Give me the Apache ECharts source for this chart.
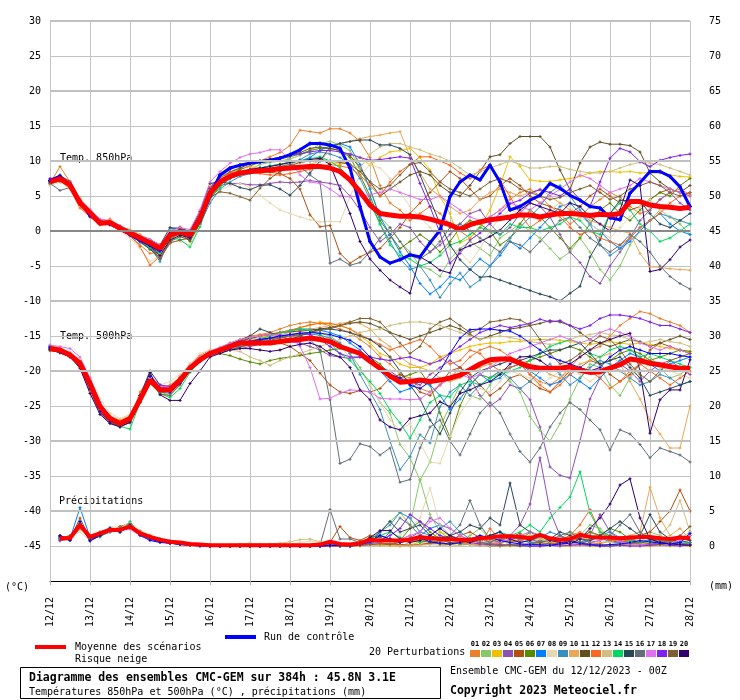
<!DOCTYPE html>
<html><head><meta charset="utf-8">
<script src="https://cdn.jsdelivr.net/npm/echarts/dist/echarts.min.js"></script>
<style>html,body{margin:0;padding:0;background:#fff}#c{width:740px;height:700px}</style>
</head><body><div id="c"></div>
<script>
// ---------- tick labels ----------
const xLabels = ['12/12','13/12','14/12','15/12','16/12','17/12','18/12','19/12','20/12','21/12','22/12','23/12','24/12','25/12','26/12','27/12','28/12'];
const memberLabels = ['01','02','03','04','05','06','07','08','09','10','11','12','13','14','15','16','17','18','19','20'];
// ---------- mean ----------
const mean850 = [7.0,7.5,6.6,4.0,2.6,1.1,1.2,0.4,-0.3,-1.0,-1.7,-2.5,-0.6,-0.1,-0.6,1.8,5.4,
 7.0,7.8,8.3,8.5,8.6,8.7,8.9,9.0,9.1,9.2,9.2,9.0,8.5,7.3,5.6,3.7,
 2.5,2.3,2.1,2.1,2.0,1.7,1.3,0.9,0.2,0.9,1.3,1.6,1.8,2.0,2.3,2.3,
 2.0,2.3,2.5,2.5,2.4,2.2,2.4,2.3,2.5,4.2,4.2,3.7,3.5,3.4,3.2,3.4];
const mean500 = [-16.8,-17.0,-17.7,-18.9,-21.8,-25.1,-26.8,-27.5,-26.8,-24.1,-21.3,-22.7,-22.7,-21.3,-19.6,-18.4,-17.5,
 -17.0,-16.5,-16.0,-16.0,-16.0,-16.0,-15.8,-15.6,-15.5,-15.3,-15.5,-15.8,-16.5,-17.0,-17.5,-18.6,
 -19.6,-20.7,-21.6,-21.5,-21.3,-21.5,-21.3,-21.0,-20.6,-19.8,-19.0,-18.4,-18.3,-18.3,-18.9,-19.4,
 -19.6,-19.6,-19.6,-19.4,-19.9,-20.2,-20.1,-19.6,-19.1,-18.3,-18.5,-18.9,-19.1,-19.4,-19.6,-19.6];
const meanPr = [null,1.1,1.1,3.0,1.3,1.8,2.3,2.3,2.8,1.8,1.3,0.9,0.6,0.5,0.3,0.2,0.1,
 0.1,0.1,0.1,0.1,0.1,0.1,0.1,0.1,0.1,0.1,0.2,0.6,0.3,0.2,0.4,0.9,
 0.8,0.8,0.8,0.9,1.3,1.1,1.0,1.0,0.9,0.9,1.1,1.2,1.4,1.4,1.3,1.1,
 1.6,1.1,0.9,1.0,1.6,1.3,1.2,1.2,1.1,1.2,1.3,1.3,1.1,1.0,1.2,1.1];
// ---------- control ----------
const ctl850 = [7.2,7.8,6.5,4.2,2.2,1.3,1.0,0.3,-0.5,-1.3,-2.0,-2.8,-0.4,0.0,-0.8,1.5,5.0,
 8.0,9.0,9.4,9.7,9.9,10.1,10.4,10.9,11.6,12.5,12.5,12.3,11.8,9.0,3.5,-1.5,
 -3.7,-4.6,-4.1,-3.4,-3.7,-1.7,0.1,4.9,7.0,8.0,7.3,9.4,7.0,3.0,3.5,4.4,
 5.1,6.8,6.1,5.1,4.4,3.5,3.3,1.9,1.6,5.4,6.9,8.5,8.5,7.8,6.3,3.5];
const ctl500 = [-16.6,-17.2,-17.8,-19.2,-22.5,-25.8,-27.2,-27.6,-27.0,-23.5,-20.8,-22.5,-23.0,-21.8,-20.0,-18.6,-17.6,
 -17.2,-16.8,-16.0,-15.8,-15.5,-15.3,-15.0,-14.8,-14.6,-14.5,-14.6,-14.8,-15.2,-15.6,-16.5,-18.0,
 -19.5,-20.5,-21.0,-22.0,-22.5,-21.5,-20.0,-17.5,-15.3,-14.1,-14.0,-14.0,-14.2,-14.3,-15.0,-16.0,
 -17.0,-18.0,-18.5,-19.0,-19.5,-20.0,-19.5,-18.0,-17.0,-16.5,-17.0,-17.5,-17.5,-17.5,-17.8,-18.0];
const ctlPr = [null,1.5,0.8,3.5,0.8,1.5,2.5,2.0,3.0,1.5,0.8,0.5,0.4,0.3,0.2,0.1,0.0,
 0.0,0.0,0.0,0.0,0.0,0.0,0.0,0.0,0.0,0.0,0.0,0.1,0.1,0.0,0.2,0.6,
 1.5,1.0,0.5,0.8,1.2,0.6,0.4,0.3,0.5,1.0,1.5,1.2,0.8,0.5,0.3,0.2,
 0.2,0.1,0.3,0.6,0.4,0.2,0.1,0.2,0.3,0.5,0.8,0.6,0.4,0.3,0.5,1.8];
// ---------- perturbations: 850 hPa ----------
const t850_01 = [6.8,9.2,7.0,3.8,2.0,1.0,1.5,0.2,-0.6,-2.0,-3.2,-3.0,-0.3,0.5,-0.2,2.2,5.8, 7.5,8.2,8.8,9.3,10.0,10.6,11.2,12.2,14.4,14.2,14.0,14.6,14.6,14.0,12.8,10.5, 6.5,4.0,3.0,1.5,2.5,3.5,2.5,1.0,0.0,-1.0,0.5,2.0,3.0,4.5,5.5,6.0, 5.0,3.5,2.5,1.0,2.0,3.5,4.5,5.5,4.8,3.5,2.5,3.0,4.5,5.5,6.0,5.2];
const t850_02 = [7.2,7.8,6.8,4.2,2.8,1.5,1.0,0.5,-0.2,-1.2,-2.2,-3.0,-0.8,-0.5,-1.0,1.5,5.0, 6.8,7.5,8.0,8.8,9.5,9.8,10.0,10.3,10.8,11.5,12.5,12.8,12.3,11.5,9.0,6.0, 2.0,0.5,-1.5,-3.0,-5.0,-5.5,-6.5,-4.0,-2.5,-1.5,-2.5,-3.5,-1.0,0.0,1.0,0.0, -1.0,-2.5,-4.0,-3.0,-1.0,-3.0,-5.5,-7.0,-5.0,-2.0,0.0,1.5,3.0,2.0,1.0,-0.5];
const t850_03 = [6.9,7.3,6.7,4.5,2.5,1.0,1.3,0.5,0.0,-0.8,-1.5,-2.2,-0.2,0.4,-0.3,2.0,5.6, 7.0,7.6,8.0,8.4,8.8,9.2,9.6,9.8,10.0,10.0,10.0,9.8,9.5,10.0,10.5,9.4, 10.5,11.3,11.5,11.8,10.5,8.7,4.9,2.5,-1.7,-1.0,0.5,3.0,6.5,10.6,9.2,7.3, 7.1,7.1,7.3,7.5,7.8,8.3,8.5,8.5,8.4,8.5,8.3,8.3,8.3,8.0,7.8,7.7];
const t850_04 = [7.3,7.6,6.5,4.0,2.4,1.2,1.0,0.3,-0.5,-1.3,-2.0,-2.4,-1.0,-0.4,-0.9,1.2,4.8, 6.5,6.8,6.8,6.6,6.6,6.8,7.0,6.9,7.0,7.2,7.0,6.8,6.5,5.0,3.0,0.5, -1.5,-0.5,1.0,0.5,-1.5,-3.0,-2.0,-0.5,1.0,2.5,3.0,1.0,-0.5,0.5,2.5,4.0, 3.5,2.0,-0.5,-3.0,-4.5,-6.5,-7.5,-5.0,-3.0,-1.0,1.5,3.0,4.5,5.5,4.0,3.0];
const t850_05 = [7.0,7.0,6.4,3.6,2.8,1.0,1.2,0.6,0.0,-0.6,-1.2,-2.0,0.0,0.5,-0.2,2.5,6.0, 7.4,8.0,8.5,8.6,8.5,8.4,8.2,7.5,6.0,2.3,0.6,0.8,-3.2,-4.6,-3.7,-3.0, -2.5,-1.0,0.5,2.5,4.0,5.5,7.0,8.5,7.5,6.0,4.5,5.0,6.5,7.5,6.5,5.0, 4.0,3.5,3.0,2.5,3.5,5.0,6.0,5.0,4.0,3.0,3.5,4.5,5.5,6.0,5.5,5.0];
const t850_06 = [7.1,7.4,6.9,4.3,2.5,0.9,1.4,0.5,-0.4,-1.5,-2.5,-3.5,-1.2,-0.3,-1.5,1.0,4.5, 6.5,7.8,8.8,9.3,9.8,10.0,10.3,10.6,11.0,11.5,11.8,11.8,11.5,10.5,8.0,5.0, 1.5,-0.5,-2.5,-1.5,-0.5,-1.5,-3.0,-1.5,0.5,1.5,1.0,0.0,-2.0,-1.0,1.0,3.0, 2.0,0.5,-1.0,-2.5,-1.0,1.0,3.0,4.0,2.5,1.5,3.0,4.5,5.5,5.0,6.5,7.5];
const t850_07 = [6.7,7.2,6.3,3.9,2.9,1.3,0.9,0.2,-0.6,-1.6,-2.6,-3.8,0.3,0.5,-0.4,1.6,5.2, 7.0,7.6,8.2,8.8,9.0,9.3,9.5,9.8,10.0,10.5,11.5,12.2,12.5,12.0,9.5,6.0, 2.0,-0.5,-3.0,-5.0,-7.5,-9.0,-8.0,-6.5,-7.0,-5.5,-4.0,-5.0,-3.5,-1.5,-2.5,-1.0, 0.5,2.0,3.5,4.0,2.5,1.0,0.0,-1.5,-2.5,-1.5,0.0,1.5,2.5,1.0,0.0,-0.5];
const t850_08 = [6.5,7.0,6.2,3.5,2.0,0.8,1.0,0.0,-1.0,-2.5,-4.4,-3.5,-1.5,-1.5,-2.0,0.8,4.5, 5.8,6.5,6.8,6.2,5.1,4.0,3.0,2.5,2.0,1.6,1.3,1.4,1.3,4.9,8.0,9.5, 9.0,7.5,5.5,3.5,2.0,0.5,-1.5,-2.5,-3.0,-4.5,-2.5,0.0,2.0,3.0,2.5,2.0, 1.5,3.0,4.0,3.5,2.0,1.0,0.0,-1.0,0.5,2.0,3.5,4.5,3.0,2.0,1.5,1.0];
const t850_09 = [7.0,7.7,6.6,4.4,2.7,1.6,1.1,0.6,-0.2,-1.3,-2.3,-4.4,-1.0,-0.2,-0.6,1.0,4.0, 6.0,7.0,7.8,8.2,8.5,8.8,9.2,9.6,10.2,11.0,11.3,11.0,10.5,9.5,7.5,4.5, 1.0,-1.5,-4.0,-5.5,-5.0,-7.0,-9.5,-7.5,-6.0,-8.0,-7.0,-5.0,-3.0,-1.0,0.5,2.0, 3.5,5.5,6.5,5.0,3.0,1.0,-2.0,-3.5,-2.5,-1.0,0.5,1.5,2.5,2.0,1.5,1.0];
const t850_10 = [6.8,7.3,6.8,4.7,3.0,1.4,1.6,0.7,0.2,-0.5,-1.5,-2.8,-0.4,0.2,-0.4,2.4,6.2, 7.8,8.5,9.0,9.2,9.0,8.8,8.8,9.0,9.3,9.5,10.0,11.5,12.5,12.8,13.2,13.5, 13.7,14.0,14.2,10.6,8.3,6.0,5.0,3.5,2.5,3.0,4.5,5.5,6.0,5.5,5.0,5.5, 6.0,5.0,4.0,3.0,2.5,1.5,1.0,0.5,0.0,-0.3,-3.2,-5.1,-5.2,-5.4,-5.5,-5.6];
const t850_11 = [7.2,7.9,7.1,4.1,2.3,1.2,1.3,0.4,-0.3,-1.5,-2.6,-3.9,-1.5,-0.8,-1.3,1.3,5.3, 7.6,8.4,9.0,9.6,10.0,10.3,10.5,10.8,11.2,11.8,12.0,11.8,11.5,10.8,9.0,7.0, 5.0,6.0,7.0,8.0,8.5,8.0,6.5,5.5,5.0,6.5,8.5,10.6,10.9,12.5,13.5,13.5, 13.5,12.0,8.7,5.9,9.7,12.0,12.7,12.4,12.4,12.2,11.3,8.3,7.0,6.0,5.5,6.5];
const t850_12 = [6.9,7.2,6.0,3.3,2.0,0.9,1.7,0.6,-0.7,-2.2,-4.9,-3.6,-1.8,0.6,-0.5,2.0,6.3, 7.5,8.2,8.4,8.3,8.2,8.0,8.0,8.2,8.5,8.8,9.2,9.5,9.3,9.0,8.0,6.5, 5.0,7.0,8.5,9.5,10.6,10.6,10.0,9.4,8.3,7.5,8.7,9.4,7.3,4.9,2.5,0.5, 1.5,3.0,2.0,0.5,-0.5,0.0,-1.0,-1.5,-2.0,-1.0,0.5,1.5,2.5,4.0,5.0,5.5];
const t850_13 = [6.6,7.4,6.7,4.6,2.6,1.3,1.5,0.8,0.1,-0.9,-1.8,-2.0,0.1,0.3,-0.2,2.6,6.5, 7.6,8.0,8.3,8.5,8.8,9.0,9.3,9.6,9.8,10.0,10.2,10.0,9.8,9.5,9.0,11.0, 12.0,12.5,12.5,12.0,11.6,11.0,10.6,10.0,9.0,8.0,8.5,9.0,9.5,10.0,9.5,9.0, 9.0,9.2,9.2,8.8,8.5,8.3,8.3,8.5,9.0,9.5,9.8,9.7,9.5,9.0,8.5,8.0];
const t850_14 = [7.1,7.5,6.8,4.1,2.6,1.0,1.1,0.3,-0.6,-1.4,-2.4,-3.1,-1.0,-1.2,-2.3,0.6,4.6, 6.2,7.5,8.2,8.6,9.0,9.3,9.5,9.8,10.0,10.3,10.6,10.0,9.0,7.5,6.0,4.0, 1.0,-2.0,-3.5,-4.0,-5.0,-4.5,-3.5,-2.0,-1.5,-0.5,0.5,0.0,-0.5,1.0,0.5,0.5, 0.0,0.5,1.0,2.0,1.5,0.0,-0.5,2.5,4.0,3.0,1.0,0.0,-1.5,-1.0,0.0,1.0];
const t850_15 = [7.3,8.0,6.4,4.3,2.1,1.4,1.3,0.2,-0.4,-1.1,-1.3,-2.0,0.5,0.3,0.0,2.8,6.8, 7.0,6.8,6.2,5.9,6.5,6.6,6.0,5.1,6.5,8.3,10.0,12.0,12.5,12.8,13.0,13.0, 12.3,12.3,11.8,10.9,8.0,4.5,1.0,-2.0,-4.1,-5.5,-6.6,-6.5,-7.0,-7.5,-8.0,-8.5, -9.0,-9.4,-10.0,-8.9,-7.9,-3.7,-1.3,2.5,4.4,4.3,4.3,2.5,1.0,0.5,1.5,2.5];
const t850_16 = [6.8,5.8,6.2,3.8,2.3,1.3,0.9,0.5,-0.1,-0.8,-1.6,-2.2,-0.3,0.1,-0.7,1.6,5.5, 6.8,7.5,8.0,8.3,8.6,8.9,9.2,9.5,9.2,8.0,7.0,-4.6,-4.0,-4.9,-4.5,-3.0, -1.0,0.5,-1.5,-3.5,-4.0,-3.0,-1.5,0.5,1.0,0.0,-1.0,-2.0,-3.0,-1.5,-2.0,-3.0, -1.5,0.0,1.5,2.0,0.5,-1.0,-2.0,-3.0,-2.0,-0.5,-1.5,-3.0,-5.0,-6.5,-7.5,-8.3];
const t850_17 = [7.4,7.6,7.0,4.5,3.1,1.7,1.5,0.8,0.0,-0.7,-1.2,-2.0,0.0,0.5,0.2,3.0,7.0, 8.5,9.7,10.5,11.0,11.2,11.6,11.6,10.0,8.0,7.0,6.8,6.0,5.0,4.9,5.0,5.2, 5.5,6.0,5.5,5.0,4.5,4.5,5.0,4.0,3.0,2.0,1.5,2.0,3.0,4.0,3.5,3.0, 4.0,5.0,6.0,7.0,8.0,7.5,6.5,5.5,6.0,6.5,7.5,7.0,6.5,6.0,5.5,5.0];
const t850_18 = [7.5,7.7,6.9,4.2,2.7,1.4,1.2,0.6,-0.2,-1.0,-1.9,-2.6,-0.5,0.2,-0.2,2.3,6.1, 7.8,8.8,9.5,9.8,10.0,10.2,10.5,10.8,11.0,11.3,11.5,11.5,11.3,11.0,10.5,10.1, 10.2,10.4,10.6,10.4,6.8,3.5,-0.3,-4.6,-3.2,-1.3,-0.3,1.1,2.5,3.9,4.4,5.4, 5.9,5.5,5.0,6.0,4.5,3.5,7.0,10.4,11.8,11.3,9.9,9.2,10.1,10.5,10.8,11.0];
const t850_19 = [7.0,7.1,6.5,4.4,2.4,1.2,0.9,0.5,-0.3,-1.2,-2.1,-4.0,-1.7,-1.3,-1.0,1.4,4.8, 5.6,5.4,4.9,4.4,6.1,7.5,8.5,9.3,9.8,10.0,10.2,10.0,9.8,9.5,8.5,7.0, 6.0,6.5,8.0,9.5,9.8,8.5,7.0,6.0,5.5,5.0,6.0,7.0,7.5,7.0,6.0,5.5, 5.0,4.5,4.8,5.5,6.0,6.5,5.5,4.5,5.0,6.0,6.5,7.0,6.5,5.5,5.0,5.5];
const t850_20 = [7.1,7.6,6.6,4.0,2.5,1.1,1.2,0.3,-0.5,-1.3,-2.1,-3.5,-1.3,-0.6,-1.0,1.5,5.1, 7.0,7.8,8.4,8.8,9.0,9.2,9.5,9.8,10.0,10.2,10.4,9.5,6.0,2.5,-1.5,-4.0, -5.6,-7.0,-8.0,-8.9,-3.7,-4.5,-5.6,-6.0,-2.7,-2.1,-1.5,-0.8,0.1,1.6,3.0,4.0, 3.5,3.0,2.5,4.0,3.5,2.0,1.0,0.0,3.0,7.3,6.5,-5.8,-5.5,-4.1,-2.3,-1.3];
// ---------- perturbations: 500 hPa ----------
const t500_01 = [-16.5,-16.8,-17.5,-19.5,-23.0,-26.0,-27.5,-27.8,-27.0,-23.0,-21.0,-22.5,-22.0,-21.0,-19.0,-17.8,-17.0, -16.8,-16.0,-15.5,-15.0,-14.8,-14.5,-14.0,-13.5,-13.2,-13.0,-13.2,-13.5,-14.0,-14.5,-15.5,-16.5, -18.0,-19.0,-20.5,-21.0,-22.5,-23.0,-22.0,-21.0,-19.5,-18.0,-17.0,-16.5,-17.0,-18.0,-19.0,-20.5, -21.5,-22.0,-21.0,-19.5,-18.0,-17.0,-16.5,-15.0,-13.5,-12.5,-11.5,-11.8,-12.5,-13.0,-13.5,-14.5];
const t500_02 = [-17.0,-17.2,-17.8,-19.0,-22.0,-25.5,-27.0,-27.5,-27.2,-24.5,-21.5,-23.0,-23.5,-21.5,-19.5,-18.2,-17.6, -17.2,-16.6,-16.2,-16.0,-15.8,-15.5,-15.2,-15.0,-14.8,-14.5,-14.6,-15.0,-16.0,-17.5,-19.5,-22.0, -24.5,-26.0,-30.5,-32.4,-35.6,-33.0,-28.0,-25.0,-22.0,-23.5,-24.0,-22.0,-20.0,-21.5,-23.0,-26.5, -28.5,-30.0,-27.5,-24.0,-21.0,-19.0,-19.5,-22.0,-23.5,-21.0,-19.0,-18.0,-19.5,-21.0,-20.5,-19.5];
const t500_03 = [-16.9,-17.3,-17.8,-18.8,-21.5,-25.0,-26.5,-27.2,-26.5,-24.0,-21.0,-22.5,-22.5,-21.0,-19.5,-18.0,-17.4, -17.0,-16.3,-15.8,-15.5,-15.2,-15.0,-14.6,-14.2,-13.8,-13.5,-13.0,-13.2,-13.5,-14.0,-15.0,-16.0, -17.5,-18.0,-19.0,-19.5,-19.5,-19.0,-18.0,-17.5,-17.0,-16.5,-16.2,-16.0,-16.0,-15.8,-15.8,-15.6, -15.5,-15.5,-15.6,-15.8,-16.0,-16.2,-16.0,-15.8,-16.0,-16.2,-16.0,-16.2,-16.5,-16.8,-17.0,-17.2];
const t500_04 = [-16.7,-16.9,-17.6,-18.6,-21.0,-24.5,-26.5,-27.3,-26.6,-24.3,-21.5,-22.3,-22.4,-21.0,-19.3,-18.2,-17.6, -17.3,-17.0,-16.8,-16.5,-16.2,-16.0,-15.8,-15.8,-16.0,-16.5,-17.0,-17.8,-18.0,-18.2,-18.0,-18.5, -19.5,-20.0,-21.0,-21.5,-22.0,-20.5,-19.5,-18.5,-19.5,-21.0,-23.5,-25.0,-24.0,-22.0,-22.5,-24.1, -28.0,-33.7,-34.9,-35.3,-30.0,-24.0,-21.0,-19.5,-19.0,-20.0,-21.5,-20.0,-19.0,-18.5,-19.5,-20.5];
const t500_05 = [-16.4,-16.8,-17.5,-18.5,-21.5,-24.8,-26.8,-27.8,-27.2,-24.5,-21.5,-22.8,-22.6,-21.2,-19.2,-18.0,-17.2, -16.8,-16.6,-16.5,-16.3,-16.2,-16.0,-16.0,-16.5,-17.5,-18.5,-20.3,-22.0,-23.0,-23.2,-22.8,-23.0, -22.5,-21.0,-20.5,-21.5,-23.0,-23.5,-22.0,-20.0,-19.5,-20.5,-22.0,-23.5,-22.5,-21.0,-20.5,-21.5, -22.5,-23.0,-21.5,-20.0,-19.5,-18.5,-19.0,-20.5,-21.5,-20.5,-19.0,-17.0,-16.0,-16.5,-17.0,-17.5];
const t500_06 = [-16.8,-17.1,-17.7,-19.0,-22.0,-25.3,-27.0,-27.6,-27.0,-24.0,-21.2,-22.8,-22.8,-21.3,-19.5,-18.3,-17.5, -17.5,-17.8,-18.3,-18.7,-19.0,-18.5,-18.2,-18.0,-17.8,-17.5,-17.3,-17.0,-16.8,-17.0,-17.5,-18.0, -19.0,-20.5,-21.0,-20.5,-20.0,-22.0,-26.0,-29.5,-25.0,-22.0,-20.5,-21.0,-20.0,-19.5,-19.0,-18.5, -18.0,-17.5,-17.0,-16.5,-17.0,-18.0,-19.0,-18.5,-17.5,-17.0,-17.5,-18.5,-18.0,-17.5,-17.0,-17.2];
const t500_07 = [-16.6,-17.0,-17.6,-18.8,-21.6,-25.0,-26.6,-27.4,-26.8,-24.0,-21.0,-22.4,-22.6,-21.2,-19.4,-18.2,-17.4, -16.8,-16.2,-15.8,-15.4,-15.0,-14.8,-14.5,-14.2,-14.0,-14.0,-14.2,-14.5,-15.0,-16.0,-17.0,-18.5, -20.0,-21.5,-23.0,-22.5,-21.5,-22.0,-23.5,-25.5,-24.0,-22.0,-20.5,-21.5,-21.0,-19.5,-19.0,-20.0, -21.0,-22.0,-21.5,-20.5,-21.5,-22.5,-21.0,-19.5,-18.5,-17.5,-18.0,-19.0,-20.0,-19.0,-18.5,-18.0];
const t500_08 = [-16.3,-16.7,-17.3,-18.3,-21.0,-24.0,-26.0,-26.8,-26.2,-23.5,-21.0,-22.0,-21.5,-20.5,-19.0,-17.5,-17.0, -16.8,-16.5,-16.2,-16.0,-15.8,-15.5,-15.0,-14.8,-14.5,-14.5,-14.8,-15.5,-16.5,-18.0,-20.0,-22.0, -24.5,-27.0,-28.5,-27.5,-30.3,-33.0,-33.2,-29.4,-26.0,-24.0,-22.5,-23.0,-21.5,-20.0,-20.5,-21.0, -22.0,-21.0,-20.0,-19.5,-20.5,-21.5,-20.5,-19.5,-20.0,-21.0,-20.0,-19.0,-19.5,-20.0,-20.5,-21.0];
const t500_09 = [-16.9,-17.2,-17.9,-19.2,-22.3,-25.6,-27.1,-27.6,-27.1,-24.4,-21.6,-23.0,-23.2,-21.8,-19.9,-18.6,-17.8, -17.4,-16.9,-16.5,-16.0,-15.7,-15.4,-15.1,-14.9,-14.8,-14.7,-14.9,-15.3,-16.0,-17.5,-20.5,-23.0, -25.5,-30.0,-34.1,-32.2,-29.1,-30.3,-25.1,-23.0,-22.0,-23.5,-22.0,-21.0,-20.0,-21.0,-22.5,-21.5, -20.0,-19.0,-20.5,-22.0,-21.0,-19.5,-18.5,-19.0,-20.0,-21.0,-22.0,-21.5,-20.5,-21.0,-22.0,-21.5];
const t500_10 = [-16.6,-17.0,-17.5,-18.7,-21.3,-24.7,-26.4,-27.0,-26.4,-23.8,-21.2,-22.2,-22.2,-20.8,-19.2,-17.9,-17.2, -16.9,-16.4,-16.0,-15.7,-15.4,-15.1,-14.8,-14.5,-14.2,-14.0,-13.8,-13.5,-13.2,-13.0,-13.2,-14.0, -15.5,-16.5,-18.0,-19.0,-19.5,-20.0,-21.0,-21.5,-21.0,-20.0,-19.5,-19.0,-18.5,-18.0,-18.5,-19.0, -19.5,-20.5,-21.0,-20.0,-19.0,-18.5,-18.0,-17.5,-19.0,-21.5,-24.0,-27.0,-29.0,-31.0,-31.0,-25.0];
const t500_11 = [-16.8,-17.0,-17.6,-18.8,-21.6,-25.0,-26.8,-27.4,-26.9,-24.2,-20.5,-22.4,-22.6,-21.4,-19.6,-18.4,-17.6, -17.0,-16.4,-15.7,-15.3,-15.0,-14.8,-14.5,-14.4,-14.3,-14.2,-14.0,-13.8,-13.5,-13.2,-13.0,-13.2, -13.8,-14.5,-15.0,-15.5,-15.0,-14.5,-14.0,-13.5,-14.0,-14.8,-15.5,-15.0,-14.5,-14.0,-13.8,-13.5, -13.2,-12.8,-13.0,-13.5,-14.5,-15.5,-16.0,-16.5,-16.0,-15.5,-15.8,-16.5,-16.0,-15.5,-15.0,-15.5];
const t500_12 = [-16.5,-16.9,-17.4,-18.6,-21.4,-24.8,-26.7,-27.3,-26.7,-24.1,-21.4,-22.6,-22.4,-21.1,-19.4,-18.1,-17.3, -16.7,-16.1,-15.6,-15.2,-14.9,-14.7,-14.5,-14.2,-13.8,-13.4,-13.2,-13.2,-13.5,-14.0,-14.8,-15.5, -16.2,-17.0,-16.5,-16.0,-15.5,-16.5,-18.0,-19.0,-18.5,-17.0,-17.5,-19.0,-20.0,-19.5,-19.0,-20.5, -22.0,-23.0,-22.0,-20.5,-19.5,-20.0,-21.0,-22.5,-21.5,-20.0,-19.0,-20.0,-21.0,-22.0,-21.0,-20.0];
const t500_13 = [-16.7,-17.1,-17.8,-19.1,-22.1,-25.4,-27.0,-27.4,-26.9,-24.2,-21.0,-22.4,-22.6,-21.3,-19.6,-18.3,-17.6, -17.3,-17.0,-17.2,-18.0,-18.5,-19.2,-18.5,-18.0,-17.5,-17.0,-16.5,-16.0,-15.5,-15.0,-14.5,-14.2, -14.0,-13.5,-13.2,-13.0,-13.0,-13.2,-13.5,-14.0,-14.5,-15.0,-15.5,-15.2,-15.0,-15.2,-15.5,-15.8, -16.0,-16.2,-16.0,-15.5,-15.0,-14.8,-14.5,-14.8,-15.0,-15.5,-16.0,-15.8,-15.5,-15.8,-16.0,-16.5];
const t500_14 = [-16.4,-16.9,-17.6,-18.8,-21.8,-25.2,-27.1,-27.9,-28.3,-24.5,-21.8,-23.2,-23.8,-22.5,-20.2,-18.5,-17.7, -17.2,-16.7,-16.2,-15.8,-15.4,-15.0,-14.6,-14.3,-14.0,-14.2,-14.8,-16.0,-17.5,-18.5,-20.0,-21.5, -23.2,-25.6,-27.4,-29.6,-27.0,-24.5,-23.5,-23.7,-22.0,-21.5,-22.0,-21.0,-20.5,-20.0,-19.5,-18.5, -17.5,-16.5,-16.0,-15.5,-16.0,-17.5,-18.0,-17.0,-16.5,-17.0,-18.0,-17.5,-18.0,-18.5,-19.0,-19.5];
const t500_15 = [-17.0,-17.4,-18.0,-19.4,-22.6,-25.9,-27.3,-27.9,-27.4,-23.5,-20.0,-22.0,-23.0,-21.5,-19.8,-18.3,-17.4, -16.8,-16.2,-15.6,-15.0,-14.0,-14.5,-15.0,-15.5,-15.0,-14.5,-14.0,-14.0,-14.2,-14.5,-15.0,-15.5, -16.5,-18.0,-20.0,-22.0,-24.0,-27.0,-29.0,-26.0,-23.0,-21.0,-20.0,-19.5,-19.0,-18.5,-18.5,-18.0, -17.5,-17.0,-17.0,-16.5,-16.0,-17.5,-19.0,-18.5,-18.0,-19.5,-21.0,-23.5,-23.0,-22.5,-22.0,-21.5];
const t500_16 = [-16.9,-17.3,-17.9,-19.0,-21.7,-25.2,-26.9,-27.6,-27.0,-24.2,-21.3,-22.9,-22.7,-21.4,-19.7,-18.4,-17.6, -17.1,-16.6,-16.1,-15.8,-15.6,-15.4,-15.2,-15.0,-15.0,-15.5,-17.0,-24.1,-33.2,-32.6,-30.4,-30.8, -32.0,-31.0,-35.9,-35.5,-31.0,-28.0,-27.0,-30.0,-32.0,-29.0,-26.0,-24.5,-26.0,-29.0,-31.5,-33.0, -31.0,-28.0,-26.0,-24.5,-25.5,-27.0,-28.4,-31.3,-28.4,-29.0,-30.5,-32.4,-31.0,-31.5,-32.0,-33.0];
const t500_17 = [-16.3,-16.5,-16.8,-18.0,-21.0,-24.5,-26.6,-27.2,-26.6,-23.8,-21.5,-22.2,-22.3,-21.0,-19.2,-18.0,-17.2, -16.6,-16.0,-15.5,-15.2,-15.0,-14.8,-14.8,-15.0,-16.5,-19.5,-24.0,-23.9,-23.2,-22.7,-22.8,-23.0, -23.9,-24.0,-24.0,-24.1,-24.0,-23.0,-22.0,-21.0,-20.5,-21.0,-20.5,-19.5,-18.5,-17.5,-17.0,-16.5, -16.0,-15.5,-15.0,-15.5,-16.0,-15.5,-14.5,-14.0,-14.5,-15.0,-16.0,-16.5,-17.0,-16.5,-17.0,-17.5];
const t500_18 = [-16.6,-17.0,-17.6,-18.7,-21.5,-25.0,-26.7,-27.4,-26.8,-24.0,-20.8,-22.0,-22.2,-21.0,-19.5,-18.3,-17.6, -17.0,-16.5,-16.0,-15.7,-15.5,-15.3,-15.0,-14.8,-14.6,-14.8,-15.5,-16.5,-17.5,-18.0,-18.0,-18.0, -18.3,-18.5,-18.2,-18.0,-18.5,-19.0,-18.5,-17.5,-16.5,-15.5,-14.5,-14.0,-13.5,-13.8,-13.5,-13.2, -12.6,-13.0,-12.8,-13.5,-14.0,-13.5,-12.5,-12.0,-12.0,-12.2,-12.5,-13.0,-13.5,-13.5,-14.0,-14.5];
const t500_19 = [-17.1,-17.3,-17.9,-19.3,-22.4,-25.8,-27.4,-28.0,-27.3,-24.5,-21.4,-23.3,-23.5,-22.0,-20.0,-18.6,-17.8, -17.4,-17.0,-16.6,-16.2,-15.9,-15.6,-15.3,-15.0,-14.8,-14.5,-14.2,-14.0,-13.5,-13.0,-12.5,-12.5, -13.0,-14.5,-16.0,-17.5,-16.5,-14.0,-13.0,-12.5,-13.5,-14.5,-14.0,-13.0,-12.8,-12.5,-12.7,-13.5, -15.5,-17.5,-19.0,-18.5,-17.5,-16.0,-15.0,-15.5,-17.0,-19.0,-20.5,-21.5,-20.0,-18.5,-18.0,-17.5];
const t500_20 = [-16.9,-17.4,-18.0,-19.6,-23.2,-26.2,-27.5,-28.0,-27.3,-24.0,-20.2,-23.4,-24.2,-24.2,-21.8,-20.0,-18.0, -17.5,-17.0,-16.8,-16.8,-17.0,-17.2,-17.0,-16.5,-16.2,-16.0,-16.5,-17.5,-18.0,-19.5,-22.7,-24.1, -27.0,-28.0,-28.4,-26.8,-26.4,-26.0,-24.4,-25.1,-23.2,-22.7,-22.0,-21.5,-20.5,-19.0,-18.0,-17.9, -18.5,-19.5,-20.0,-19.0,-18.0,-17.0,-16.0,-15.5,-15.0,-14.6,-20.0,-28.9,-24.1,-22.7,-22.7,-18.4];
// ---------- perturbations: precipitation (mm) ----------
const pr_01 = [null,1.0,1.5,2.5,1.0,2.0,2.5,2.0,3.0,2.0,1.5,0.8,0.5,0.3,0.2,0.1,0.0, 0.0,0.0,0.1,0.0,0.0,0.0,0.1,0.0,0.0,0.0,0.0,0.2,0.1,0.0,0.1,0.5, 0.3,0.2,0.8,1.5,0.5,0.3,0.6,1.2,0.8,0.4,1.0,0.5,0.3,0.8,1.5,0.6, 0.4,0.2,0.8,1.5,2.0,0.5,0.3,0.8,1.2,0.5,0.3,0.2,0.6,1.0,0.4,0.2];
const pr_02 = [null,1.2,0.8,3.0,0.8,1.5,2.0,2.5,2.5,1.5,1.0,0.6,0.4,0.2,0.1,0.1,0.0, 0.0,0.0,0.0,0.0,0.0,0.0,0.0,0.0,0.0,0.0,0.1,0.3,0.2,0.1,0.3,1.0, 2.0,3.5,4.8,3.0,9.5,4.5,2.0,1.0,0.5,1.5,2.5,1.0,0.5,0.8,1.5,2.0, 1.2,0.5,1.0,2.0,1.5,3.0,2.5,1.0,0.5,0.8,1.2,2.0,1.5,0.6,0.3,0.5];
const pr_03 = [null,0.8,1.2,2.8,1.2,2.0,2.2,2.2,2.6,2.0,1.2,0.8,0.6,0.4,0.2,0.0,0.0, 0.0,0.0,0.0,0.0,0.0,0.0,0.0,0.0,0.0,0.0,0.0,0.0,0.0,0.0,0.0,0.1, 0.1,0.0,0.0,0.2,0.5,1.0,2.0,1.5,1.0,0.5,0.3,0.1,0.0,0.0,0.1,0.2, 0.3,0.1,0.0,0.0,0.1,0.0,0.0,0.1,0.2,0.1,0.0,0.0,0.1,0.0,0.1,0.0];
const pr_04 = [null,1.0,1.0,2.6,1.4,1.8,2.4,2.0,2.8,2.2,1.4,1.0,0.6,0.4,0.2,0.1,0.0, 0.0,0.0,0.0,0.0,0.0,0.0,0.0,0.0,0.0,0.0,0.1,0.2,0.1,0.0,0.2,0.6, 0.8,1.0,0.5,1.2,2.0,4.0,3.0,2.5,1.5,0.8,1.0,1.2,0.8,1.5,3.0,6.0, 12.6,5.0,1.5,0.8,1.0,1.5,4.5,2.0,0.8,0.5,0.3,0.2,0.5,0.8,0.4,0.2];
const pr_05 = [null,1.5,1.0,4.0,1.0,1.5,2.2,2.8,3.2,1.8,1.2,0.8,0.5,0.3,0.2,0.1,0.0, 0.0,0.0,0.0,0.0,0.0,0.0,0.0,0.0,0.0,0.0,0.0,0.5,2.8,1.2,0.8,1.5, 1.2,0.8,0.5,0.8,1.0,0.6,0.4,0.8,1.5,2.0,1.2,0.6,0.8,1.2,1.8,1.0, 0.8,0.5,0.3,0.6,1.2,2.0,1.5,0.8,0.5,1.0,1.5,2.0,3.5,5.0,8.0,5.0];
const pr_06 = [null,1.1,1.3,2.8,1.0,1.6,2.0,2.5,2.9,1.8,1.4,1.0,0.5,0.3,0.1,0.1,0.0, 0.0,0.0,0.0,0.0,0.0,0.0,0.0,0.0,0.0,0.0,0.0,0.2,0.1,0.1,0.4,1.2, 1.5,1.0,0.8,2.5,3.5,2.0,1.0,0.5,0.3,0.8,1.0,1.2,0.6,0.4,0.8,2.0, 1.5,0.6,0.4,0.8,1.2,2.0,1.5,2.5,2.0,1.0,0.5,0.8,1.2,0.6,1.0,2.0];
const pr_07 = [null,1.3,1.0,5.5,1.2,1.4,2.0,2.2,2.7,1.6,1.0,0.6,0.4,0.3,0.2,0.1,0.0, 0.0,0.0,0.0,0.0,0.0,0.0,0.0,0.0,0.0,0.0,0.0,0.1,0.0,0.0,0.2,0.5, 1.5,1.0,0.8,0.5,1.5,2.5,3.0,1.5,1.0,0.8,0.5,0.6,1.0,1.5,0.8,0.5, 0.6,1.0,0.8,0.5,0.4,0.8,1.2,0.6,0.4,0.3,0.5,0.6,0.4,0.3,0.5,1.5];
const pr_08 = [null,0.6,1.4,2.0,0.8,1.8,2.8,2.6,3.4,2.2,1.6,1.0,0.6,0.4,0.3,0.2,0.1, 0.1,0.1,0.2,0.3,0.2,0.3,0.4,0.3,0.5,0.7,0.5,0.6,0.4,0.2,0.1,0.2, 0.5,0.8,1.5,2.5,4.0,8.3,3.0,1.5,0.8,0.5,0.8,1.2,0.6,0.4,0.5,0.8, 1.0,0.6,0.4,0.5,0.8,1.2,0.8,0.5,0.3,0.5,0.8,1.2,0.8,0.5,1.0,2.0];
const pr_09 = [null,0.9,0.9,3.2,1.5,2.0,2.6,2.4,2.5,1.9,1.1,0.7,0.5,0.2,0.1,0.0,0.0, 0.0,0.0,0.0,0.0,0.0,0.0,0.0,0.0,0.0,0.0,0.0,0.1,0.0,0.1,0.3,0.8, 2.0,3.0,4.8,4.0,2.0,1.5,2.5,3.5,2.0,1.0,0.8,1.5,2.0,1.0,0.5,0.8, 1.2,2.0,1.5,0.8,0.5,1.0,1.5,2.0,1.2,0.8,0.5,1.0,0.6,0.4,0.3,0.5];
const pr_10 = [null,1.0,1.2,2.4,1.3,1.7,2.1,2.3,2.6,1.7,1.2,0.9,0.6,0.5,0.4,0.2,0.1, 0.0,0.0,0.0,0.0,0.0,0.0,0.0,0.0,0.0,0.0,0.0,0.0,0.0,0.0,0.1,0.1, 0.2,0.1,0.0,0.5,1.0,0.8,0.5,0.3,0.6,1.0,1.2,0.8,0.5,0.8,1.2,1.5, 1.0,0.6,0.4,0.8,1.2,0.8,0.5,0.6,1.0,1.5,2.0,8.4,4.0,1.5,2.5,1.0];
const pr_11 = [null,1.2,0.9,3.3,0.9,1.6,2.5,2.1,3.1,1.9,1.3,0.9,0.5,0.4,0.2,0.1,0.0, 0.0,0.0,0.0,0.0,0.0,0.0,0.0,0.0,0.0,0.0,0.0,0.1,0.1,0.0,0.1,0.3, 0.4,0.3,0.2,0.1,0.2,0.4,0.8,0.5,0.3,0.2,0.1,0.0,0.0,0.1,0.0,0.0, 0.0,0.1,0.4,0.8,0.3,0.1,0.0,0.0,0.1,0.2,0.4,0.8,0.6,0.3,0.2,0.1];
const pr_12 = [null,1.4,1.1,2.9,1.1,1.9,2.3,2.4,2.9,2.1,1.5,1.0,0.7,0.4,0.2,0.1,0.0, 0.0,0.0,0.0,0.0,0.0,0.0,0.0,0.0,0.0,0.0,0.0,0.1,0.0,0.0,0.1,0.2, 0.4,0.2,0.1,0.1,0.2,0.3,0.6,0.8,0.5,0.3,0.2,2.5,1.0,0.6,0.8,1.2, 1.5,1.0,0.8,1.5,3.0,5.2,2.0,1.0,0.6,0.8,1.2,1.5,0.8,0.5,1.0,1.5];
const pr_13 = [null,0.7,1.3,2.7,1.6,1.9,2.4,2.6,3.0,2.1,1.4,1.0,0.6,0.4,0.3,0.2,0.1, 0.1,0.2,0.3,0.4,0.3,0.3,0.4,0.6,0.9,1.0,0.6,0.2,0.1,0.0,0.0,0.1, 0.2,0.1,0.0,0.0,0.1,0.2,0.1,0.0,0.1,0.2,0.1,0.0,0.0,0.1,0.2,0.3, 0.2,0.1,0.2,0.3,0.4,0.2,0.1,0.0,0.1,0.2,0.3,0.6,1.5,3.0,6.5,2.0];
const pr_14 = [null,1.1,1.0,3.1,1.4,1.3,2.2,2.0,3.5,1.7,1.1,0.7,0.5,0.3,0.2,0.1,0.0, 0.0,0.0,0.0,0.0,0.0,0.0,0.0,0.0,0.0,0.0,0.0,0.1,0.0,0.0,0.3,0.8, 1.5,2.0,1.2,0.8,0.5,1.0,1.5,1.2,0.8,0.5,1.0,1.5,2.0,1.5,2.0,3.0, 2.0,4.0,5.5,7.0,10.6,4.7,2.0,1.5,1.0,0.8,0.5,0.8,1.2,0.6,0.4,0.3];
const pr_15 = [null,1.3,1.2,3.0,1.2,1.7,2.4,2.2,2.8,1.8,1.2,0.8,0.6,0.5,0.3,0.2,0.1, 0.0,0.0,0.0,0.0,0.0,0.0,0.0,0.0,0.0,0.0,0.0,0.1,0.0,0.0,0.1,0.3, 2.0,3.5,2.0,2.5,3.0,1.5,1.0,1.5,2.0,3.0,2.5,4.0,3.0,9.0,3.0,2.0, 1.5,1.0,2.0,1.5,1.0,0.8,1.5,2.5,3.5,2.5,1.5,4.5,2.0,1.0,0.5,0.8];
const pr_16 = [null,1.0,1.1,2.6,1.2,1.8,2.2,2.1,2.7,1.9,1.3,0.9,0.6,0.4,0.2,0.1,0.0, 0.0,0.0,0.0,0.0,0.0,0.0,0.0,0.0,0.0,0.0,0.1,5.2,1.0,1.0,0.5,0.4, 0.5,2.0,4.0,3.0,1.5,0.8,0.5,1.5,3.0,6.5,3.0,1.0,0.5,0.8,1.5,1.0, 0.5,0.8,1.5,2.0,1.0,0.5,0.8,1.5,3.0,4.5,2.0,1.0,0.8,0.5,0.3,0.5];
const pr_17 = [null,1.2,1.4,3.0,1.3,1.5,2.0,2.3,2.4,1.6,1.0,0.8,0.5,0.3,0.1,0.0,0.0, 0.0,0.0,0.0,0.0,0.0,0.0,0.0,0.0,0.0,0.0,0.0,0.0,0.0,0.0,0.1,0.2, 0.5,0.8,1.0,1.5,2.0,3.5,4.0,2.5,1.5,0.8,0.5,0.3,0.6,1.0,1.5,2.0, 1.5,1.0,0.5,0.3,0.2,0.4,0.8,1.2,0.6,0.3,0.2,0.1,0.2,0.4,0.8,1.5];
const pr_18 = [null,0.8,1.0,2.9,1.1,1.7,2.3,2.2,2.7,1.8,1.2,0.8,0.5,0.3,0.2,0.1,0.0, 0.0,0.0,0.0,0.0,0.0,0.0,0.0,0.0,0.0,0.0,0.0,0.0,0.1,0.2,0.3,0.5, 0.8,1.5,2.5,4.5,3.5,2.5,1.5,1.0,0.8,0.5,0.3,0.2,0.1,0.2,0.1,0.0, 0.0,0.1,0.0,0.1,0.2,0.1,0.0,0.0,0.1,0.0,0.0,0.1,0.2,0.1,0.0,0.2];
const pr_19 = [null,1.1,1.5,3.4,1.0,1.4,2.1,2.7,2.6,2.0,1.4,0.9,0.7,0.5,0.3,0.2,0.1, 0.0,0.0,0.0,0.0,0.0,0.0,0.0,0.0,0.0,0.0,0.0,0.0,0.0,0.0,0.1,0.2, 0.3,0.2,0.5,1.0,0.8,0.5,0.3,0.2,0.4,0.8,0.5,0.3,0.2,0.1,0.2,0.3, 0.5,0.3,0.2,0.4,0.6,0.3,0.2,0.1,0.2,0.4,0.6,0.3,0.2,0.5,1.5,2.8];
const pr_20 = [null,1.4,0.9,3.0,0.7,1.5,2.4,2.1,2.9,1.7,1.0,0.6,0.4,0.2,0.1,0.0,0.0, 0.0,0.0,0.0,0.0,0.0,0.0,0.0,0.0,0.0,0.0,0.0,0.1,0.1,0.2,0.4,1.2, 2.2,2.2,1.0,0.5,0.8,1.5,2.5,1.5,0.8,0.5,1.0,1.5,2.0,1.0,0.5,0.8, 1.5,0.8,0.5,0.3,1.0,2.5,4.0,6.0,8.7,9.6,4.0,1.0,0.5,0.3,0.2,0.1];

const T850 = [t850_01,t850_02,t850_03,t850_04,t850_05,t850_06,t850_07,t850_08,t850_09,t850_10,t850_11,t850_12,t850_13,t850_14,t850_15,t850_16,t850_17,t850_18,t850_19,t850_20];
const T500 = [t500_01,t500_02,t500_03,t500_04,t500_05,t500_06,t500_07,t500_08,t500_09,t500_10,t500_11,t500_12,t500_13,t500_14,t500_15,t500_16,t500_17,t500_18,t500_19,t500_20];
const PR = [pr_01,pr_02,pr_03,pr_04,pr_05,pr_06,pr_07,pr_08,pr_09,pr_10,pr_11,pr_12,pr_13,pr_14,pr_15,pr_16,pr_17,pr_18,pr_19,pr_20];

// ---------- styles ----------
const memberColors = ['#e8802e','#88c868','#f0c000','#9050b0','#b05010','#588a00','#0080ff','#e8d8b0','#3890c0','#e8a858','#605020','#f86820','#d0c080','#00d860','#284858','#607078','#e070f0','#8020f0','#806030','#300070'];
const FONT = '"DejaVu Sans Mono", "Liberation Mono", monospace';
const STEP = 6; // hours between points
const PLUS = 'path://M1,0h1v1h1v1h-1v1h-1v-1h-1v-1h1z';

function pts(arr){ return arr.map((v,i)=>[i*STEP, v==null?'-':v]); }
function thin(name, arr, color, yIdx){
  return {type:'line', name, data:pts(arr), yAxisIndex:yIdx, symbol:PLUS, symbolSize:3, showSymbol:true,
    lineStyle:{width:1,color}, itemStyle:{color}, silent:true, z:2, connectNulls:false};
}
const series = [];
series.push({type:'line', data:[[0,-100]], showSymbol:false, silent:true, z:1,
  markLine:{silent:true, symbol:'none', label:{show:false},
    data:[30,20,10,-10,-20,-30,-40].map(v=>({yAxis:v, lineStyle:{color:'#c0c0c0',width:2,type:'solid'}}))
      .concat([{yAxis:0, lineStyle:{color:'#888888',width:2,type:'solid'}}])}});
for (let k=0;k<20;k++){
  series.push(thin('p850_'+k, T850[k], memberColors[k], 0));
  series.push(thin('p500_'+k, T500[k], memberColors[k], 0));
  series.push(thin('ppr_'+k, PR[k], memberColors[k], 1));
}
series.push({type:'line', data:pts(ctl850), yAxisIndex:0, symbol:PLUS, symbolSize:4, lineStyle:{width:3,color:'#0000ff'}, itemStyle:{color:'#0000ff'}, silent:true, z:3});
series.push(thin('c500', ctl500, '#0000ff', 0));
series.push(thin('cpr', ctlPr, '#0000ff', 1));
series.push({type:'line', data:pts(mean850), yAxisIndex:0, showSymbol:false, lineStyle:{width:5,color:'#ff0000'}, silent:true, z:4});
series.push({type:'line', data:pts(mean500), yAxisIndex:0, showSymbol:false, lineStyle:{width:5,color:'#ff0000'}, silent:true, z:4});
series.push({type:'line', data:pts(meanPr), yAxisIndex:1, showSymbol:false, lineStyle:{width:4,color:'#ff0000'}, silent:true, z:4});

const graphic = [
  {type:'text', style:{text:'Temp. 850hPa', x:60, y:158, font:'10px '+FONT, fill:'#000', verticalAlign:'middle'}},
  {type:'text', style:{text:'Temp. 500hPa', x:60, y:336, font:'10px '+FONT, fill:'#000', verticalAlign:'middle'}},
  {type:'text', style:{text:'Précipitations', x:59, y:501, font:'10px '+FONT, fill:'#000', verticalAlign:'middle'}},
  {type:'text', style:{text:'(°C)', x:5, y:587, font:'10px '+FONT, fill:'#000', verticalAlign:'middle'}},
  {type:'text', style:{text:'(mm)', x:709, y:586, font:'10px '+FONT, fill:'#000', verticalAlign:'middle'}},
  {type:'rect', shape:{x:35,y:645,width:31,height:4}, style:{fill:'#ff0000'}},
  {type:'text', style:{text:'Moyenne des scénarios', x:75, y:647, font:'10px '+FONT, fill:'#000', verticalAlign:'middle'}},
  {type:'text', style:{text:'Risque neige', x:75, y:659, font:'10px '+FONT, fill:'#000', verticalAlign:'middle'}},
  {type:'rect', shape:{x:225,y:635,width:31,height:4}, style:{fill:'#0000ff'}},
  {type:'text', style:{text:'Run de contrôle', x:264, y:637, font:'10px '+FONT, fill:'#000', verticalAlign:'middle'}},
  {type:'text', style:{text:'20 Perturbations', x:369, y:652, font:'10px '+FONT, fill:'#000', verticalAlign:'middle'}},
  {type:'rect', shape:{x:20.5,y:667.5,width:420,height:31}, style:{fill:'#fff', stroke:'#000', lineWidth:1}},
  {type:'text', style:{text:'Diagramme des ensembles CMC-GEM sur 384h : 45.8N 3.1E', x:29, y:678, font:'bold 11.5px '+FONT, fill:'#000', verticalAlign:'middle'}},
  {type:'text', style:{text:'Températures 850hPa et 500hPa (°C) , précipitations (mm)', x:29, y:692, font:'10px '+FONT, fill:'#000', verticalAlign:'middle'}},
  {type:'text', style:{text:'Ensemble CMC-GEM du 12/12/2023 - 00Z', x:450, y:671, font:'10px '+FONT, fill:'#000', verticalAlign:'middle'}},
  {type:'text', style:{text:'Copyright 2023 Meteociel.fr', x:450, y:691, font:'bold 11.5px '+FONT, fill:'#000', verticalAlign:'middle'}}
];
memberLabels.forEach((lab,k)=>{
  graphic.push({type:'rect', shape:{x:470+11*k, y:650, width:10, height:7}, style:{fill:memberColors[k]}});
  graphic.push({type:'text', style:{text:lab, x:475+11*k, y:644, font:'bold 7px '+FONT, fill:'#000', align:'center', verticalAlign:'middle'}});
});

const chart = echarts.init(document.getElementById('c'), null, {renderer:'canvas'});
chart.setOption({
  animation:false,
  backgroundColor:'#ffffff',
  grid:{left:50, top:21, width:640, height:560, containLabel:false},
  xAxis:{type:'value', min:0, max:384, interval:24,
    axisLine:{show:true, onZero:false, lineStyle:{color:'#000', width:1}},
    axisTick:{show:true, length:4, lineStyle:{color:'#b0b0b0'}},
    splitLine:{show:true, lineStyle:{color:'#c4c4c4', width:1}},
    axisLabel:{rotate:90, margin:16, padding:[0,0,9,0], color:'#000', fontFamily:FONT, fontSize:10,
      formatter:v=>xLabels[Math.round(v/24)]}},
  yAxis:[
    {type:'value', min:-50, max:30, interval:5, position:'left',
      axisLine:{show:false}, axisTick:{show:false},
      splitLine:{show:true, lineStyle:{color:'#c4c4c4', width:1}},
      axisLabel:{margin:9, color:'#000', fontFamily:FONT, fontSize:10, formatter:v=>v===-50?'':String(v)}},
    {type:'value', min:-5, max:75, interval:5, position:'right',
      axisLine:{show:false}, axisTick:{show:false}, splitLine:{show:false},
      axisLabel:{margin:19, color:'#000', fontFamily:FONT, fontSize:10, formatter:v=>v===-5?'':String(v)}}
  ],
  series,
  graphic
});
</script>
</body></html>
